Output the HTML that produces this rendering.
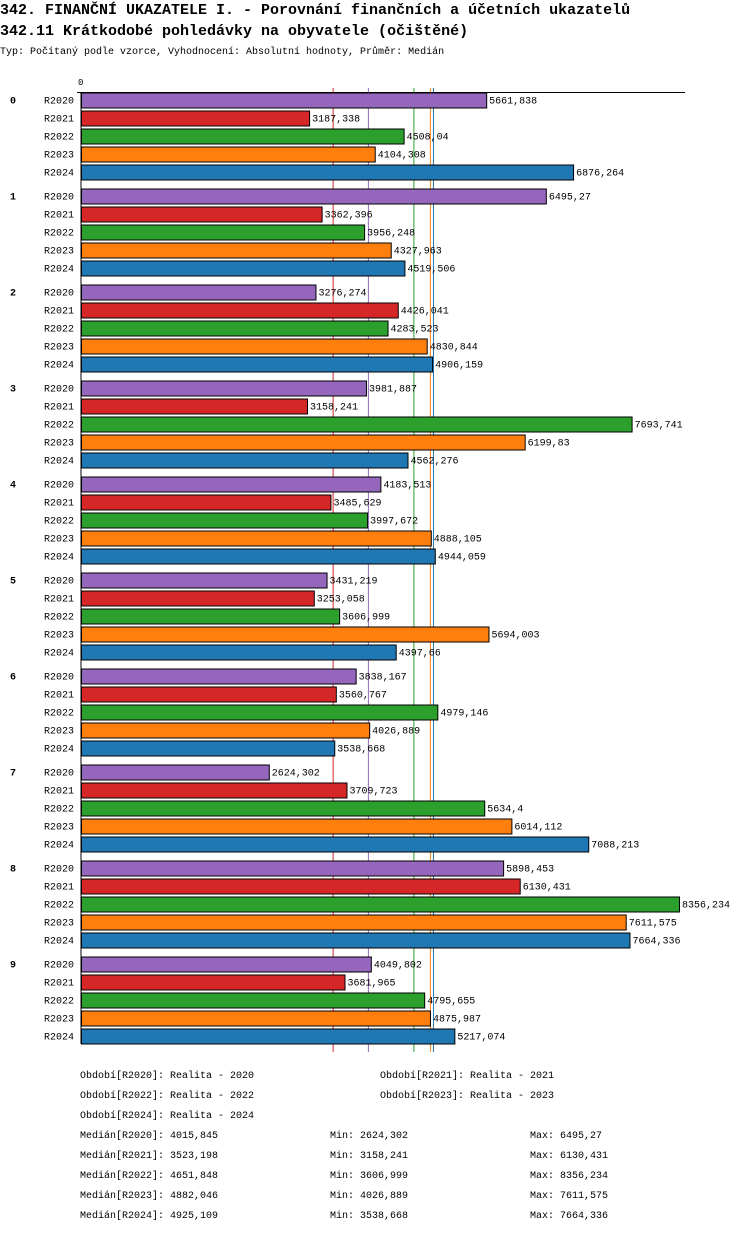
<!DOCTYPE html>
<html><head><meta charset="utf-8"><style>
body{margin:0;background:#fff}
svg text{font-family:"Liberation Mono","DejaVu Sans Mono",monospace;font-size:10px;fill:#000}
</style></head><body>
<svg id="c" width="750" height="1232" xmlns="http://www.w3.org/2000/svg">
<text x="0" y="14" style="font-size:15px;font-weight:bold">342. FINANČNÍ UKAZATELE I. - Porovnání finančních a účetních ukazatelů</text>
<text x="0" y="35" style="font-size:15px;font-weight:bold">342.11 Krátkodobé pohledávky na obyvatele (očištěné)</text>
<text x="0" y="54">Typ: Počítaný podle vzorce, Vyhodnocení: Absolutní hodnoty, Průměr: Medián</text>
<g id="g"></g>
</svg>
<script>
const series = ["R2020","R2021","R2022","R2023","R2024"];
const colors = ["#9467bd","#d62728","#2ca02c","#ff7f0e","#1f77b4"];
const groups = ["0","1","2","3","4","5","6","7","8","9"];
const v2020 = [5661.838,6495.27,3276.274,3981.887,4183.513,3431.219,3838.167,2624.302,5898.453,4049.802];
const v2021 = [3187.338,3362.396,4426.041,3158.241,3485.629,3253.058,3560.767,3709.723,6130.431,3681.965];
const v2022 = [4508.04,3956.248,4283.523,7693.741,3997.672,3606.999,4979.146,5634.4,8356.234,4795.655];
const v2023 = [4104.308,4327.963,4830.844,6199.83,4888.105,5694.003,4026.889,6014.112,7611.575,4875.987];
const v2024 = [6876.264,4519.506,4906.159,4562.276,4944.059,4397.66,3538.668,7088.213,7664.336,5217.074];
const medians = [4015.845,3523.198,4651.848,4882.046,4925.109];
const mins = ["2624,302","3158,241","3606,999","4026,889","3538,668"];
const maxs = ["6495,27","6130,431","8356,234","7611,575","7664,336"];
const periods = ["Realita - 2020","Realita - 2021","Realita - 2022","Realita - 2023","Realita - 2024"];
const vals=[v2020,v2021,v2022,v2023,v2024];
const NS="http://www.w3.org/2000/svg", g=document.getElementById('g');
const x0=81, k=(679-81)/8356.234;
const X=v=>x0+v*k;
const Y=(gi,si)=>92.5+gi*96+si*18;
function el(t,a,txt){const e=document.createElementNS(NS,t);for(const n in a)e.setAttribute(n,a[n]);if(txt!=null)e.textContent=txt;g.appendChild(e);return e;}
const fmt=v=>String(v).replace('.',',');
// axis
let a=el('line',{x1:77,y1:92.5,x2:685,y2:92.5,stroke:'#000'});


let t0=el('text',{x:78,y:85,style:'font-size:9px'},'0');


medians.forEach((m,i)=>{const l=el('line',{x1:X(m),y1:88,x2:X(m),y2:1052,stroke:colors[i],'stroke-width':1});

});
groups.forEach((gn,gi)=>{
 const gl=el('text',{x:10,y:Y(gi,0)+11,style:'font-weight:bold'},gn);
 
 
 series.forEach((s,si)=>{
  const v=vals[si][gi], y=Y(gi,si);
  const sl=el('text',{x:44,y:y+11},s);
  
  
  const r=el('rect',{x:x0+0.5,y:y+0.5,width:X(v)-x0,height:15,fill:colors[si],stroke:'#000','stroke-width':1});
  
  
  const vl=el('text',{x:X(v)+3,y:y+11},fmt(v));
  
  
 });
});
let zl=el('line',{x1:81,y1:92,x2:81,y2:1044,stroke:'#000'});


// legend
const pos=[[80,1078],[380,1078],[80,1098],[380,1098],[80,1118]];
series.forEach((s,i)=>{const t=el('text',{x:pos[i][0],y:pos[i][1]},'Období['+s+']: '+periods[i]);

});
series.forEach((s,i)=>{const y=1138+i*20;
 const a1=el('text',{x:80,y:y},'Medián['+s+']: '+fmt(medians[i]));
 
 
 const a2=el('text',{x:330,y:y},'Min: '+mins[i]);
 
 
 const a3=el('text',{x:530,y:y},'Max: '+maxs[i]);
 
 
});
</script>
</body></html>
